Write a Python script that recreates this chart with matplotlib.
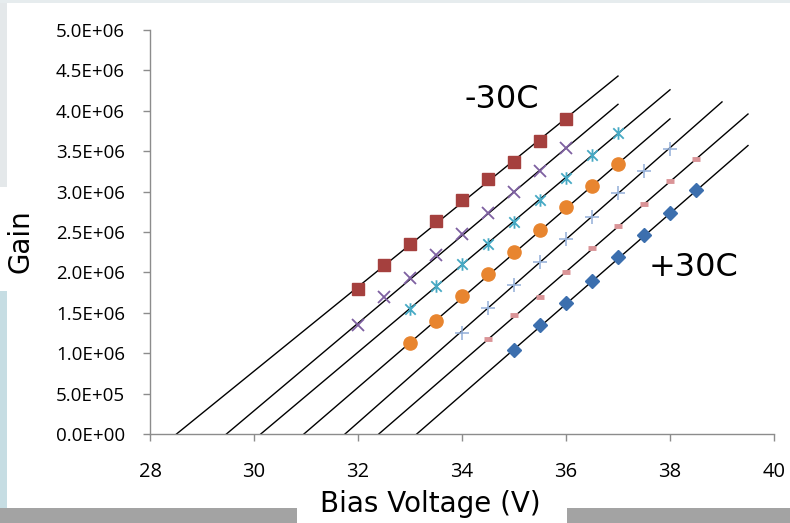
import matplotlib
matplotlib.use("Agg")
import matplotlib.pyplot as plt
from matplotlib.path import Path
from matplotlib.patches import Rectangle

# measured gain vs bias voltage, one series per temperature (-30C ... +30C)
x_sq = [32, 32.5, 33, 33.5, 34, 34.5, 35, 35.5, 36]
y_sq = [1.79e6, 2.09e6, 2.35e6, 2.63e6, 2.89e6, 3.16e6, 3.37e6, 3.63e6, 3.90e6]

x_x = [32, 32.5, 33, 33.5, 34, 34.5, 35, 35.5, 36]
y_x = [1.35e6, 1.70e6, 1.93e6, 2.22e6, 2.47e6, 2.73e6, 2.99e6, 3.25e6, 3.54e6]

x_st = [33, 33.5, 34, 34.5, 35, 35.5, 36, 36.5, 37]
y_st = [1.55e6, 1.83e6, 2.10e6, 2.35e6, 2.62e6, 2.90e6, 3.17e6, 3.45e6, 3.73e6]

x_ci = [33, 33.5, 34, 34.5, 35, 35.5, 36, 36.5, 37]
y_ci = [1.13e6, 1.40e6, 1.71e6, 1.98e6, 2.25e6, 2.52e6, 2.81e6, 3.07e6, 3.34e6]

x_pl = [34, 34.5, 35, 35.5, 36, 36.5, 37, 37.5, 38]
y_pl = [1.25e6, 1.56e6, 1.85e6, 2.13e6, 2.41e6, 2.68e6, 2.98e6, 3.26e6, 3.53e6]

x_da = [34.5, 35, 35.5, 36, 36.5, 37, 37.5, 38, 38.5]
y_da = [1.18e6, 1.47e6, 1.70e6, 2.01e6, 2.30e6, 2.57e6, 2.85e6, 3.13e6, 3.40e6]

x_di = [35, 35.5, 36, 36.5, 37, 37.5, 38, 38.5]
y_di = [1.04e6, 1.35e6, 1.62e6, 1.89e6, 2.19e6, 2.46e6, 2.74e6, 3.02e6]

# linear fits: x-intercept, end voltage, gain at end
fit_x0 = [28.51, 29.47, 30.13, 30.96, 31.75, 32.40, 33.13]
fit_x1 = [37.0, 37.0, 38.0, 38.0, 39.0, 39.5, 39.5]
fit_y1 = [4.43e6, 4.08e6, 4.26e6, 3.90e6, 4.11e6, 3.96e6, 3.57e6]

xticks = [28, 30, 32, 34, 36, 38, 40]
yticks = [0, 0.5e6, 1.0e6, 1.5e6, 2.0e6, 2.5e6, 3.0e6, 3.5e6, 4.0e6, 4.5e6, 5.0e6]
ytick_labels = ['0.0E+00', '5.0E+05', '1.0E+06', '1.5E+06', '2.0E+06', '2.5E+06',
                '3.0E+06', '3.5E+06', '4.0E+06', '4.5E+06', '5.0E+06']

# excel style "star": an x with a vertical bar
star = Path([(-1, -1), (1, 1), (-1, 1), (1, -1), (0, -1.2), (0, 1.2)],
            [Path.MOVETO, Path.LINETO, Path.MOVETO, Path.LINETO, Path.MOVETO, Path.LINETO])

W, H = 790, 523
fig = plt.figure(figsize=(7.9, 5.23), dpi=100, facecolor='#c6dde3')


def rect(x, y, w, h, c, z=-10):
    # x, y from the top-left corner in pixels
    fig.patches.append(Rectangle((x / W, 1 - (y + h) / H), w / W, h / H,
                                 transform=fig.transFigure, facecolor=c,
                                 edgecolor='none', zorder=z))


# slide background bits around the pasted chart
rect(7, 3, 783, 505, 'white')
rect(0, 187, 8, 104, 'white')
rect(0, 0, 7, 187, '#e4e8ea')
rect(0, 508, W, 15, '#a3a3a3')
rect(297, 503, 270, 20, 'white', -9)
rect(0, 0, W, 3, '#e6ecee', -9)

ax = fig.add_axes([150 / W, 89 / H, 624 / W, 404 / H])
ax.set_facecolor('none')

for x0, x1, y1 in zip(fit_x0, fit_x1, fit_y1):
    ax.plot([x0, x1], [0, y1], color='black', lw=1.0, zorder=2)

ax.plot(x_sq, y_sq, ls='none', marker='s', ms=9, color='#a5403e', zorder=3)
ax.plot(x_x, y_x, ls='none', marker='x', ms=9, mew=1.3, color='#7e60a1', zorder=3)
ax.plot(x_st, y_st, ls='none', marker=star, ms=9, mew=1.3, color='#46a9c4', zorder=3)
ax.plot(x_ci, y_ci, ls='none', marker='o', ms=9.5, color='#e8852f', zorder=3)
ax.plot(x_pl, y_pl, ls='none', marker='+', ms=10, mew=1.1, color='#93afd8', zorder=3)
ax.plot(x_da, y_da, ls='none', marker='_', ms=6, mew=3.5, color='#da9497', zorder=3)
ax.plot(x_di, y_di, ls='none', marker='D', ms=7, color='#3c6fae', zorder=3)

ax.set_xlim(28, 40)
ax.set_ylim(0, 5e6)
ax.set_xticks(xticks)
ax.set_yticks(yticks)
ax.set_xticklabels([str(v) for v in xticks])
ax.set_yticklabels(ytick_labels)

for s in ['top', 'right']:
    ax.spines[s].set_visible(False)
for s in ['left', 'bottom']:
    ax.spines[s].set_color('#8c8c8c')
    ax.spines[s].set_linewidth(1.0)
ax.tick_params(axis='both', colors='#8c8c8c', length=5, width=1, labelcolor='black')
ax.tick_params(axis='y', pad=13, labelsize=13.5)
ax.tick_params(axis='x', pad=15, labelsize=14.5)
for lab in ax.get_xticklabels() + ax.get_yticklabels():
    lab.set_family('Open Sans')

fig.text(430 / W, 1 - 504 / H, 'Bias Voltage (V)', ha='center', va='center',
         fontsize=20, family='DejaVu Sans')
fig.text(21 / W, 1 - 241 / H, 'Gain', ha='center', va='center', rotation=90,
         fontsize=20, family='DejaVu Sans')

fig.text(502 / W, 1 - 99 / H, '-30C', fontsize=23, ha='center', va='center')
fig.text(693 / W, 1 - 267 / H, '+30C', fontsize=23, ha='center', va='center')

fig.savefig('out.png', dpi=100, facecolor=fig.get_facecolor())
